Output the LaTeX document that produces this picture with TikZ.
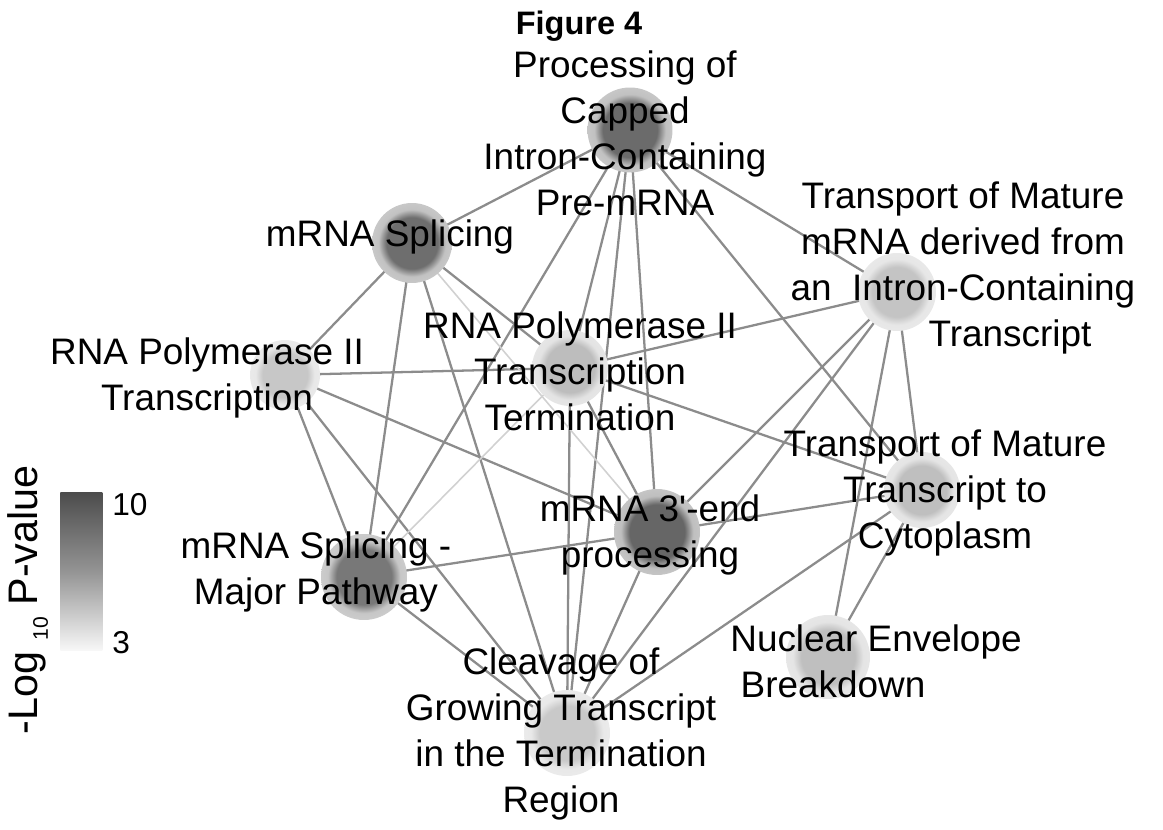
\documentclass[tikz,border=0pt]{standalone}
\usepackage{fontspec}
\setmainfont{Liberation Sans}

\pgfdeclarelayer{background}
\pgfsetlayers{background,main}

\colorlet{blobcore}{gray}
\pgfdeclareradialshading[blobcore]{blob}{\pgfpointorigin}{color(0bp)=(blobcore); color(16bp)=(blobcore); color(21bp)=(blobcore!42!white); color(25bp)=(blobcore!38!white); color(50bp)=(blobcore!38!white)}

\begin{document}
\begin{tikzpicture}[x=0.02cm, y=-0.02cm,
    font						= \fontsize{21}{26.2}\selectfont,
    blob core/.code				= {\colorlet{blobcore}{#1}},
    blob/.style					= {circle, shade, shading=blob, blob core=#1, inner sep=0pt},
    lbl/.style					= {align=center, inner sep=0pt},
    conn/.style					= {draw=black!45, line width=1.3pt},
    faint/.style				= {draw=black!18, line width=0.9pt},
    %legend
    scalebar/.style				= {inner sep=0pt, minimum width=0.84cm, minimum height=3.16cm, top color=black!70, bottom color=black!3, middle color=black!42},
    scaletxt/.style				= {font=\fontsize{18}{20}\selectfont, anchor=west, inner sep=0pt}
    ]
\useasboundingbox (0,0) rectangle (1163,830);

\node[font=\bfseries\fontsize{18.5}{21}\selectfont, anchor=base] (title) at (579,35) {Figure 4};

% the pathway circles
\node[blob=black!58, minimum size=1.7cm] (cap) at (630,130) {};
\node[blob=black!57, minimum size=1.6cm] (spl) at (412,243) {};
\node[blob=black!22, minimum size=1.4cm] (pol) at (285,375) {};
\node[blob=black!26, minimum size=1.52cm] (term) at (570,368) {};
\node[blob=black!23, minimum size=1.56cm] (expint) at (897,292) {};
\node[blob=black!25, minimum size=1.52cm] (expcyt) at (922,490) {};
\node[blob=black!60, minimum size=1.72cm] (end3) at (657,532) {};
\node[blob=black!53, minimum size=1.72cm] (major) at (364,577) {};
\node[blob=black!25, minimum size=1.68cm] (neb) at (828,657) {};
\node[blob=black!21, minimum size=1.72cm] (cleave) at (567,733) {};

\begin{pgfonlayer}{background}
  \foreach \a/\b in {cap/spl, cap/major, cap/term, cap/cleave, cap/end3, cap/expcyt, cap/expint,
      spl/pol, spl/major, spl/cleave, spl/term,
      pol/term, pol/end3, pol/major, pol/cleave,
      term/expint, term/expcyt, term/end3, term/cleave,
      end3/expint, end3/expcyt, end3/major, end3/cleave,
      expint/cleave, expint/neb, expint/expcyt,
      expcyt/neb, expcyt/cleave, major/cleave}
    \draw[conn] (\a.center) -- (\b.center);
  \draw[faint] (spl.center) -- (end3.center);
  \draw[faint] (term.center) -- (major.center);
\end{pgfonlayer}

% labels
\node[lbl] (cap-lbl) at (625,133) {Processing of\\Capped\\Intron-Containing\\Pre-mRNA};
\node[lbl] (spl-lbl) at (390,237) {mRNA Splicing};
\node[lbl] (expint-lbl) at (963,268) {Transport of Mature\\mRNA derived from\\an~~Intron-Containing\\\hspace*{1.88cm}Transcript};
\node[lbl] (pol-lbl) at (207,378) {RNA Polymerase II\\Transcription};
\node[lbl] (term-lbl) at (580,371) {RNA Polymerase II\\Transcription\\Termination};
\node[lbl] (expcyt-lbl) at (945,493) {Transport of Mature\\Transcript to\\Cytoplasm};
\node[lbl] (end3-lbl) at (650,535) {mRNA 3\textquotesingle-end\\processing};
\node[lbl] (major-lbl) at (316,572) {mRNA Splicing -\\Major Pathway};
\node[lbl] (neb-lbl) at (876,661) {Nuclear Envelope\\Breakdown\hspace*{1.72cm}};
\node[lbl] (cleave-lbl) at (561,734) {Cleavage of\\Growing Transcript\\in the Termination\\Region};

% legend
\node[scalebar, anchor=north west] (scale) at (60,492) {};
\node[scaletxt] (scale-hi) at (112,505) {10};
\node[scaletxt] (scale-lo) at (112,643) {3};
\node[rotate=90, font=\fontsize{23.5}{26}\selectfont, inner sep=0pt] (scale-title) at (28,600) {-Log \raisebox{-0.45ex}{\fontsize{12}{12}\selectfont 10} P-value};

\end{tikzpicture}
\end{document}
